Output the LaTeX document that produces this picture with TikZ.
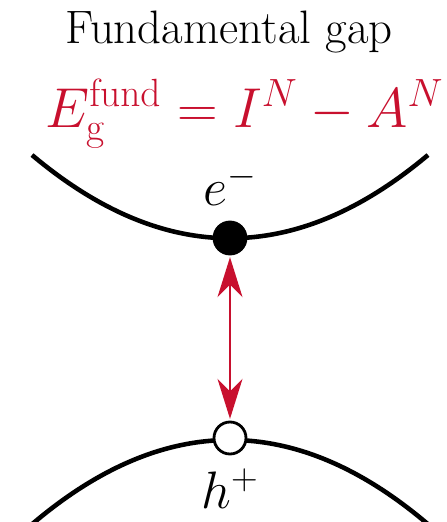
\RequirePackage{fix-cm}
\documentclass[tikz,border=0pt]{standalone}
\usetikzlibrary{arrows.meta, positioning}
\definecolor{gapred}{RGB}{200,16,46}

\begin{document}
\begin{tikzpicture}[x=0.02cm, y=-0.02cm,
        band/.style={line width=2.6pt},
        carrier/.style={circle, draw=black, line width=1.6pt, minimum size=0.64cm, inner sep=0pt},
        arr/.style={{Stealth[length=0.8cm, width=0.5cm, inset=0.25cm]}-{Stealth[length=0.8cm, width=0.5cm, inset=0.25cm]}, gapred, line width=1.1pt},
        lbl/.style={font=\fontsize{30}{36}\selectfont, inner sep=0pt}
    ]
        \useasboundingbox (0,0) rectangle (447,522);
        \clip (0,0) rectangle (447,522);

        % Title
        \node[font=\fontsize{26.7}{32}\selectfont, anchor=base] (title) at (229,43) {Fundamental gap};
        \node[font=\fontsize{32}{38}\selectfont, text=gapred, anchor=base west, inner sep=0pt] (formula) at (45,127) {$E_{\mathrm{g}}^{\mathrm{fund}} = I^N - A^N$};

        % Bands
        \draw[band] (32,155) .. controls (164,266) and (296,266) .. (428,155);
        \draw[band] (10,544) .. controls (156.7,405.3) and (303.3,405.3) .. (450,544);

        % Carriers
        \node[carrier, fill=black] (elec) at (230,238) {};
        \node[carrier, fill=white] (hole) at (230,438) {};
        \node[lbl, above=0.3cm of elec] (elab) {$e^-$};
        \node[lbl, below=0.26cm of hole] (hlab) {$h^+$};
        \draw[arr, shorten <=1pt, shorten >=1pt] (elec) -- (hole);
    \end{tikzpicture}
\end{document}
